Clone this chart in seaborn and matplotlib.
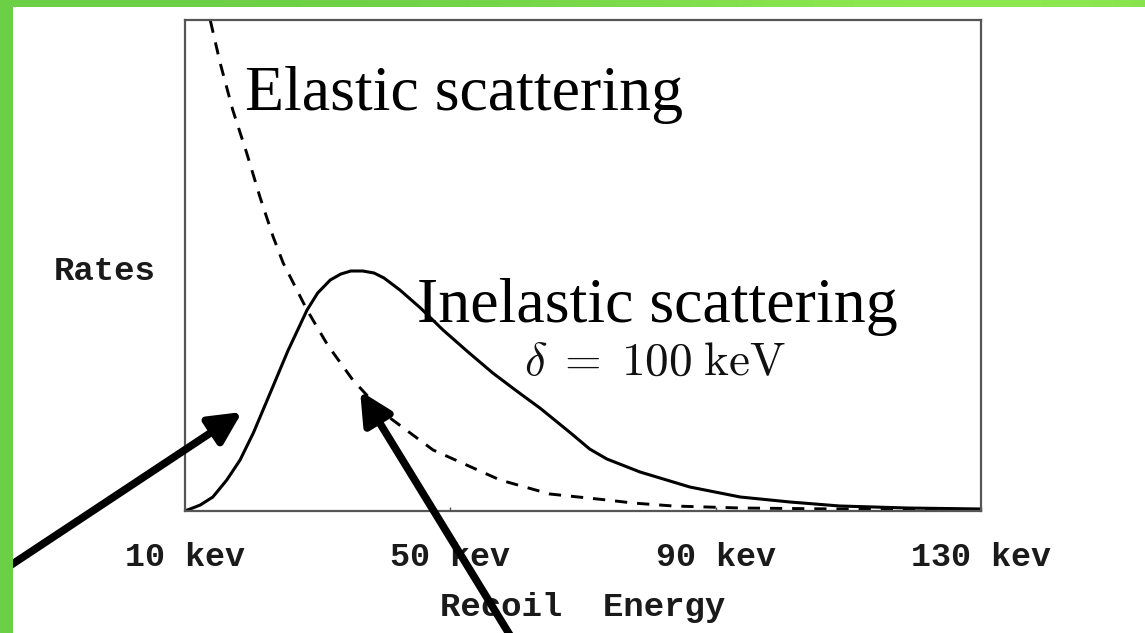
import numpy as np
import matplotlib
matplotlib.use("Agg")
import matplotlib.pyplot as plt
import seaborn as sns
from matplotlib.patches import Rectangle

# Inelastic (solid) recoil spectrum, delta = 100 keV (arbitrary rate units)
inelastic_kev = [10.0, 12.3, 14.2, 16.3, 18.3, 20.3, 22.4, 25.5, 28.4, 30.0,
                 31.9, 33.5, 35.0, 36.8, 38.5, 40.0, 42.4, 45.5, 48.9, 52.5,
                 56.4, 60.0, 63.5, 66.1, 68.5, 71.0, 73.6, 78.6, 86.1, 93.7,
                 101.2, 108.7, 118.9, 130.0]
inelastic_rate = [0, 6, 14, 31, 51, 78, 111, 160, 201, 218,
                  231, 237, 240, 240, 238, 233, 221, 203, 181, 160,
                  138, 120, 103, 89, 76, 62, 52, 39, 24, 14,
                  9, 5, 3, 2]

# Elastic (dashed) recoil spectrum, falling off steeply from threshold
elastic_kev = [13.0, 13.8, 15.3, 17.2, 19.3, 21.3, 23.3, 24.8, 28.4, 31.5,
               35.3, 39.9, 47.4, 57.5, 65.0, 73.6, 77.5, 83.6, 93.7, 108.7, 130.0]
elastic_rate = [520, 491, 448, 401, 358, 314, 274, 248, 201, 166,
                131, 98, 61, 31, 17, 11, 8, 5, 3, 2, 1]

tick_values = [10, 50, 90, 130]
tick_labels = ["10 kev", "50 kev", "90 kev", "130 kev"]

sns.set_theme(style="white")
plt.rcParams["mathtext.fontset"] = "cm"

W, H = 1145, 633
fig = plt.figure(figsize=(W / 100, H / 100), dpi=100)
fig.patch.set_facecolor("white")
ax = fig.add_axes([185 / W, 1 - 511 / H, (981 - 185) / W, (511 - 20) / H])

sns.lineplot(x=inelastic_kev, y=inelastic_rate, ax=ax, color="black",
             linewidth=2.2, estimator=None, sort=False)
sns.lineplot(x=elastic_kev, y=elastic_rate, ax=ax, color="black",
             linewidth=2.1, estimator=None, sort=False)
ax.lines[-1].set_dashes((4.2, 3.4))
for ln in ax.lines:
    ln.set_solid_joinstyle("round")

ax.set_xlim(10, 130)
ax.set_ylim(0, 491)
ax.set_xticks(tick_values)
ax.set_xticklabels(tick_labels)
ax.set_yticks([])

mono = "Liberation Mono"
for lab in ax.get_xticklabels():
    lab.set_fontfamily(mono)
    lab.set_fontsize(24)
    lab.set_fontweight("bold")
    lab.set_color("#1a1a1a")
ax.tick_params(axis="x", direction="in", length=3, width=1, color="#555555",
               pad=22, bottom=True, top=False)

ax.set_xlabel("Recoil  Energy", fontfamily=mono, fontsize=24.5,
              fontweight="bold", color="#1a1a1a", labelpad=14)
ax.set_ylabel("Rates", fontfamily=mono, fontsize=24.5, fontweight="bold",
              color="#1a1a1a", rotation=0, ha="center", va="center")
ax.yaxis.set_label_coords(-0.1005, 0.487)

for sp in ax.spines.values():
    sp.set_visible(True)
    sp.set_color("#555555")
    sp.set_linewidth(1.6)

serif = "Liberation Serif"
ax.text(19.05, 401, "Elastic scattering", fontfamily=serif, fontsize=46,
        ha="left", va="baseline", color="black")
ax.text(45.0, 189, "Inelastic scattering", fontfamily=serif, fontsize=46,
        ha="left", va="baseline", color="black")
ax.text(61.1, 136, r"$\delta\;=\;100\;\mathrm{keV}$", fontsize=34,
        ha="left", va="baseline", color="#111111")

# Pointer arrows toward the two curves
arrow_kw = dict(arrowstyle="-|>,head_length=1.2,head_width=0.6",
                mutation_scale=16, color="black", linewidth=5.5,
                shrinkA=0, shrinkB=0)
ax.annotate("", xy=(18.6, 99), xycoords="data",
            xytext=(8 / W, 1 - 567 / H), textcoords="figure fraction",
            arrowprops=arrow_kw, annotation_clip=False)
ax.annotate("", xy=(36.4, 120), xycoords="data",
            xytext=(516 / W, 1 - 645 / H), textcoords="figure fraction",
            arrowprops=arrow_kw, annotation_clip=False)

# Green frame strips along the top and left edges
band = fig.add_axes([0, 1 - 7 / H, 1, 7 / H])
grad = np.linspace(0, 1, 256)
shade = np.exp(-((grad - 0.85) / 0.35) ** 2)
c0 = np.array([108, 208, 70]) / 255
c1 = np.array([142, 232, 80]) / 255
img = (c0[None, :] * (1 - shade[:, None]) + c1[None, :] * shade[:, None])[None, :, :]
band.imshow(img, aspect="auto", extent=[0, 1, 0, 1])
band.set_axis_off()
fig.add_artist(Rectangle((0, 0), 13 / W, 1, transform=fig.transFigure,
                         facecolor="#6cd046", edgecolor="none", zorder=10))

fig.savefig("out.png", dpi=100)
